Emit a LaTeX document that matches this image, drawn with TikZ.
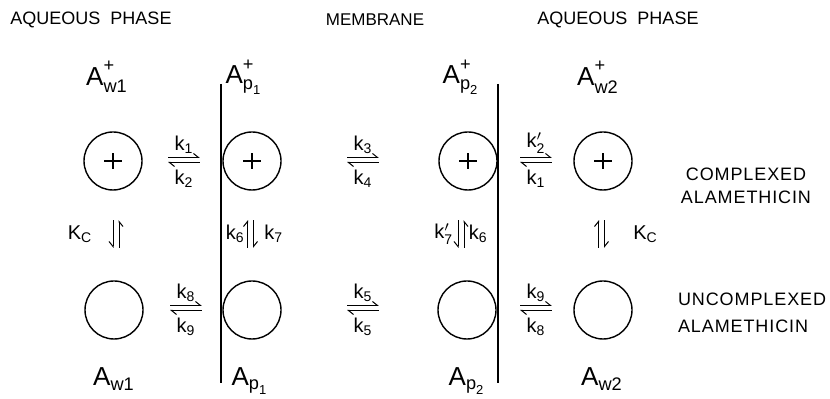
\documentclass[tikz,border=0pt]{standalone}
\usepackage{amsmath}
\usepackage{fontspec}
\setmainfont{Liberation Sans}
\usepackage{tikz}
\usetikzlibrary{positioning,arrows.meta}

\begin{document}
\begin{tikzpicture}[
  x=0.5pt, y=-0.5pt,
  mol/.style={circle, draw, line width=0.7pt, minimum size=29pt, inner sep=0pt},
  cplx/.style={mol, path picture={
    \draw[line width=0.6pt] ([xshift=-4.5pt]path picture bounding box.center) -- ([xshift=4.5pt]path picture bounding box.center);
    \draw[line width=0.6pt] ([yshift=-4pt]path picture bounding box.center) -- ([yshift=4pt]path picture bounding box.center);}},
  head/.style={font=\fontsize{9}{11}\selectfont},
  state/.style={font=\fontsize{9}{11.5}\selectfont\addfontfeature{LetterSpace=5}},
  spec/.style={font=\fontsize{13}{15}\selectfont},
  klab/.style={font=\fontsize{10}{11}\selectfont, inner sep=0.5pt},
  hrate/.style={inner sep=0pt, minimum width=15.5pt, minimum height=0pt},
  vrate/.style={inner sep=0pt, minimum width=0pt, minimum height=13.5pt},
  harpl/.style={line width=0.5pt, -{Straight Barb[left,length=2.5pt,width=4pt]}},
  harpr/.style={line width=0.5pt, -{Straight Barb[right,length=2.5pt,width=4pt]}},
  memb/.style={line width=0.75pt},
]
\useasboundingbox (0,0) rectangle (830,399);
\newcommand{\chg}{\raisebox{2.5pt}{+}}

% headings
\node[head] (aq1) at (91,20) {AQUEOUS\ \ PHASE};
\node[head, font=\fontsize{8.5}{10}\selectfont] (mem) at (375,20) {MEMBRANE};
\node[head] (aq2) at (618,20) {AQUEOUS\ \ PHASE};

% membrane walls
\coordinate (m1t) at (221,84);
\coordinate (m1b) at (221,383);
\coordinate (m2t) at (498,84);
\coordinate (m2b) at (498,383);
\draw[memb] (m1t) -- (m1b);
\draw[memb] (m2t) -- (m2b);

% molecules
\node[cplx] (w1c) at (113,161) {};
\node[cplx] (p1c) at (252,161) {};
\node[cplx] (p2c) at (468,161) {};
\node[cplx] (w2c) at (603,161) {};
\node[mol] (w1u) at (114,310) {};
\node[mol] (p1u) at (252,310) {};
\node[mol] (p2u) at (467,310) {};
\node[mol] (w2u) at (603,310) {};

% species labels
\node[spec] (lw1c) at (107,77) {A$^{\text{\chg}}_{\text{w1}}$};
\node[spec] (lp1c) at (244,77) {A$^{\text{\chg}}_{\text{p}_{\text{1}}}$};
\node[spec] (lp2c) at (461,77) {A$^{\text{\chg}}_{\text{p}_{\text{2}}}$};
\node[spec] (lw2c) at (598,77) {A$^{\text{\chg}}_{\text{w2}}$};
\node[spec] (lw1u) at (114,379) {A$_{\text{w1}}$};
\node[spec] (lp1u) at (250,381) {A$_{\text{p}_{\text{1}}}$};
\node[spec] (lp2u) at (467,381) {A$_{\text{p}_{\text{2}}}$};
\node[spec] (lw2u) at (602,379) {A$_{\text{w2}}$};

% horizontal equilibria
\foreach \n/\x/\y/\up/\dn in {%
  r12/184/160/{k$_{\text{1}}$}/{k$_{\text{2}}$},
  r34/363/160/{k$_{\text{3}}$}/{k$_{\text{4}}$},
  r21/536/160/{k$'_{\text{2}}$}/{k$_{\text{1}}$},
  r89/186/308/{k$_{\text{8}}$}/{k$_{\text{9}}$},
  r55/363/308/{k$_{\text{5}}$}/{k$_{\text{5}}$},
  r98/536/308/{k$_{\text{9}}$}/{k$_{\text{8}}$}%
} {
  \node[hrate] (\n) at (\x,\y) {};
  \draw[harpl] ([yshift=1.25pt]\n.west) -- ([yshift=1.25pt]\n.east);
  \draw[harpl] ([yshift=-1.25pt]\n.east) -- ([yshift=-1.25pt]\n.west);
  \node[klab, above=2.5pt of \n] (\n-up) {\up};
  \node[klab, below=4pt of \n] (\n-dn) {\dn};
}

% vertical equilibria
\foreach \n/\x/\s/\e/\ts in {%
  vc1/116/north/south/harpr,
  v67/250.5/south/north/harpl,
  v76/461/north/south/harpr,
  vc2/601.5/south/north/harpl%
} {
  \node[vrate] (\n) at (\x,234) {};
  \draw[\ts] ([xshift=-1.5pt]\n.\s) -- ([xshift=-1.5pt]\n.\e);
  \draw[\ts] ([xshift=1.5pt]\n.\e) -- ([xshift=1.5pt]\n.\s);
}
\node[klab, left=11pt of vc1] (kc1) {K$_{\text{C}}$};
\node[klab, left=2pt of v67] (k6a) {k$_{\text{6}}$};
\node[klab, right=6pt of v67] (k7a) {k$_{\text{7}}$};
\node[klab, left=3pt of v76] (k7b) {k$'_{\text{7}}$};
\node[klab, right=3pt of v76] (k6b) {k$_{\text{6}}$};
\node[klab, right=15pt of vc2] (kc2) {K$_{\text{C}}$};

% states
\node[state, align=center] (cx) at (746,186) {COMPLEXED\\ALAMETHICIN};
\node[state, align=left, anchor=west, font=\fontsize{9}{13.5}\selectfont\addfontfeature{LetterSpace=5}] (ucx) at (671,313) {UNCOMPLEXED\\ALAMETHICIN};
\end{tikzpicture}
\end{document}
